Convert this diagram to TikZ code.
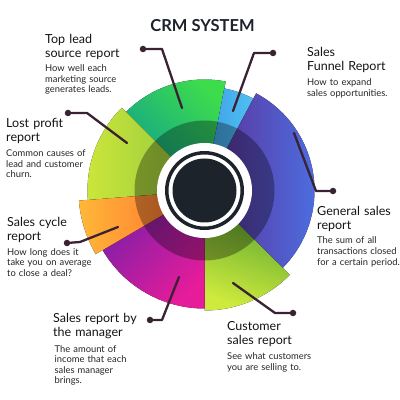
\documentclass[tikz,border=0pt]{standalone}
\usepackage{fontspec}
\setmainfont{Lato}
\usepackage{tikz}
\usetikzlibrary{positioning}
\definecolor{ink}{HTML}{3B2233}
\definecolor{core}{HTML}{1D232B}
\definecolor{headtext}{HTML}{141414}
\definecolor{bodytext}{HTML}{262626}
\definecolor{greenA}{HTML}{3DDC4D}
\definecolor{greenB}{HTML}{10A08C}
\definecolor{skyA}{HTML}{4FC0F2}
\definecolor{skyB}{HTML}{3F9FE6}
\definecolor{violetA}{HTML}{5E2F96}
\definecolor{violetB}{HTML}{4B70E3}
\definecolor{leafA}{HTML}{4E9E2E}
\definecolor{leafB}{HTML}{CDEA3D}
\definecolor{pinkA}{HTML}{7A1FA8}
\definecolor{pinkB}{HTML}{E61C9A}
\definecolor{sunA}{HTML}{FFB838}
\definecolor{sunB}{HTML}{FF6530}
\definecolor{limeA}{HTML}{CDE63A}
\definecolor{limeB}{HTML}{8CC63F}
\tikzstyle{lead} = [line width=2.3pt, draw=ink, line cap=round, line join=round]
\tikzstyle{dot} = [circle, fill=ink, inner sep=0pt, minimum size=6.5pt]
\tikzstyle{head} = [anchor=base west, inner sep=0pt, text width=110pt, align=left, font=\fontsize{12.5}{14}\selectfont, text=headtext]
\tikzstyle{txt} = [anchor=base west, inner sep=0pt, text width=110pt, align=left, font=\fontsize{9.35}{10.6}\selectfont, text=bodytext]

\begin{document}
\begin{tikzpicture}[x=1pt, y=1pt]
  \useasboundingbox[fill=white] (0,0) rectangle (400,400);
  \coordinate (c) at (204.5,209.5);

  % ring segments
  \fill[top color=greenA, bottom color=greenB, shading angle=-45] (c) -- ++(79:111) arc[start angle=79, end angle=135, radius=111] -- cycle;
  \fill[left color=skyB, right color=skyA] (c) -- ++(62:104) arc[start angle=62, end angle=79, radius=104] -- cycle;
  \fill[left color=violetA, right color=violetB] (c) -- ++(-44.7:110) arc[start angle=-44.7, end angle=62, radius=110] -- cycle;
  \fill[top color=leafA, bottom color=leafB, shading angle=-20] (c) -- ++(270:120) arc[start angle=270, end angle=315.3, radius=120] -- cycle;
  \fill[top color=pinkA, bottom color=pinkB, shading angle=45] (c) -- ++(210.3:118) arc[start angle=210.3, end angle=270, radius=118] -- cycle;
  \fill[left color=sunA, right color=sunB] (c) -- ++(184.6:126) arc[start angle=184.6, end angle=210.3, radius=126] -- cycle;
  \fill[left color=limeA, right color=limeB] (c) -- ++(135:117) arc[start angle=135, end angle=184.6, radius=117] -- cycle;

  \fill[black, opacity=0.32] (c) circle[radius=70];
  \fill[white] (c) circle[radius=47.5];
  \draw[core, line width=3.5pt] (c) circle[radius=37.75];
  \fill[core] (c) circle[radius=32];

  \node[anchor=base, inner sep=0pt, text=core, font=\fontsize{16.5}{18}\selectfont\bfseries] (title) at (202.5,368) {CRM SYSTEM};

  % connectors
  \coordinate (toplead-in) at (182,292);
  \coordinate (toplead-bend) at (162,351);
  \node[dot] (toplead-dot) at (143,351) {};
  \draw[lead] (toplead-in) -- (toplead-bend) -- (toplead-dot);

  \coordinate (funnel-in) at (233,289);
  \coordinate (funnel-bend) at (254,347);
  \node[dot] (funnel-dot) at (273,347) {};
  \draw[lead] (funnel-in) -- (funnel-bend) -- (funnel-dot);

  \coordinate (general-in) at (294,267);
  \coordinate (general-bend) at (316,209);
  \node[dot] (general-dot) at (333,209) {};
  \draw[lead] (general-in) -- (general-bend) -- (general-dot);

  \coordinate (customer-in) at (233,117);
  \coordinate (customer-bend) at (275,87);
  \node[dot] (customer-dot) at (293,87) {};
  \draw[lead] (customer-in) -- (customer-bend) -- (customer-dot);

  \coordinate (manager-in) at (179,123);
  \coordinate (manager-bend) at (162,80);
  \node[dot] (manager-dot) at (150,80) {};
  \draw[lead] (manager-in) -- (manager-bend) -- (manager-dot);

  \coordinate (cycle-in) at (118,173);
  \coordinate (cycle-bend) at (80,158);
  \node[dot] (cycle-dot) at (67,157) {};
  \draw[lead] (cycle-in) -- (cycle-bend) -- (cycle-dot);

  \coordinate (lost-in) at (127,257);
  \coordinate (lost-bend) at (87,287);
  \node[dot] (lost-dot) at (68,287) {};
  \draw[lead] (lost-in) -- (lost-bend) -- (lost-dot);

  % labels
  \node[head] (toplead) at (45,356.7) {Top lead\\source report};
  \node[txt] (toplead-txt) at ([yshift=-28.5pt]toplead.base west) {How well each\\marketing source\\generates leads.};

  \node[head] (funnel) at (307,343) {Sales\\Funnel Report};
  \node[txt] (funnel-txt) at ([yshift=-28.5pt]funnel.base west) {How to expand\\sales opportunities.};

  \node[head] (lost) at (6,272) {Lost profit\\report};
  \node[txt] (lost-txt) at ([yshift=-28.5pt]lost.base west) {Common causes of\\lead and customer\\churn.};

  \node[head] (general) at (317,184.5) {General sales\\report};
  \node[txt] (general-txt) at ([yshift=-28.5pt]general.base west) {The sum of all\\transactions closed\\for a certain period.};

  \node[head] (cycle) at (7,173.3) {Sales cycle\\report};
  \node[txt] (cycle-txt) at ([yshift=-28.5pt]cycle.base west) {How long does it\\take you on average\\to close a deal?};

  \node[head] (customer) at (227,69) {Customer\\sales report};
  \node[txt] (customer-txt) at ([yshift=-28.5pt]customer.base west) {See what customers\\you are selling to.};

  \node[head] (manager) at (53,77.3) {Sales report by\\the manager};
  \node[txt] (manager-txt) at ([yshift=-29.5pt, xshift=1.5pt]manager.base west) {The amount of\\income that each\\sales manager\\brings.};
\end{tikzpicture}
\end{document}
